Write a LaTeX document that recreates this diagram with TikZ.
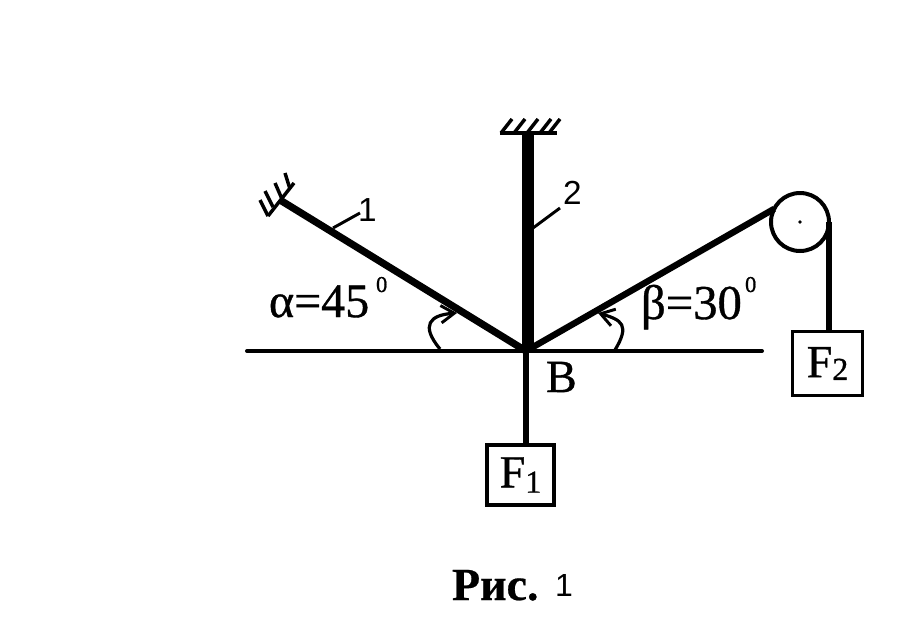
\documentclass[tikz,border=0pt]{standalone}
\usepackage{fontspec}
\setmainfont{Liberation Serif}
\newfontfamily\capsans{Liberation Sans}
\newfontfamily\heavy[FakeBold=0.8]{Liberation Serif}
\newfontfamily\heavybold[BoldFont={Liberation Serif Bold},FakeBold=0.5]{Liberation Serif Bold}
\usetikzlibrary{arrows.meta}
\newcommand{\fs}[1]{\fontsize{#1}{#1}\selectfont}
\tikzset{
  x=0.75pt,y=-0.75pt,
  every node/.style={inner sep=0pt,outer sep=0pt},
  txt/.style={anchor=base west,text=black},
  rodone/.style={line width=5.4pt},
  rodtwo/.style={line width=8.8pt},
  rope/.style={line width=3.8pt},
  axisline/.style={line width=3pt,line cap=round},
  thin line/.style={line width=2.2pt},
  wall/.style={line width=2.6pt},
  loadbox/.style={draw,font=\fs{34.5}\heavy},
  angarrow/.style={line width=2.4pt,-{Straight Barb[length=10pt,width=13pt,line width=2.2pt]}}
}
\begin{document}
\begin{tikzpicture}
\useasboundingbox (0,0) rectangle (912,628);
\coordinate (B) at (526,351);
\coordinate (A1) at (280,200);
\coordinate (A2) at (528,133);
\coordinate (H1) at (247,351);
\coordinate (H2) at (762,351);
% axis
\draw[axisline] (H1) -- (H2);
% rods
\draw[rodone] (A1) -- (B);
\draw[rodtwo] (A2) -- (528,351);
% pulley
\node[circle,draw,line width=3pt,minimum size=43.5pt,fill=white] (P) at (800,222) {};
\fill (P.center) circle (1.8);
\draw[line width=4.8pt] (B) -- (P.153);
% loads
\node[loadbox,line width=2.9pt,minimum width=50.5pt,minimum height=45pt] (F1) at (520.5,475) {\raisebox{-1pt}{F}\raisebox{-5pt}{\fs{24}1}};
\node[loadbox,line width=2.2pt,minimum width=52.5pt,minimum height=48pt] (F2) at (827.5,363.5) {\raisebox{-1pt}{F}\raisebox{-3pt}{\fs{24}2}};
\draw[rope] (B) -- (B |- F1.north);
\draw[rope] (P.east) -- (P.east |- F2.north);
% walls
\coordinate (W1a) at (268,216);
\coordinate (W1b) at (294,183);
\draw[wall] (W1a) -- (260,200);
\draw[wall] (273,207) -- (265,191);
\draw[wall] (282,199) -- (275,183);
\draw[wall] (290,189) -- (285,173);
\draw[wall] (W1a) -- (W1b);
\coordinate (W2a) at (500,133);
\coordinate (W2b) at (557,133);
\draw[wall] (W2a) -- (W2b);
\foreach \x in {501,514,527,540,549} \draw[wall] (\x,133) -- (\x+11,119);
% leader ticks
\draw[thin line] (333,228) -- (360,213);
\draw[thin line] (533,228) -- (560,208);
% angle arrows
\draw[angarrow] (440,349) .. controls (420,325) and (430,315) .. (457,313);
\draw[angarrow] (615,350) .. controls (630,325) and (622,320) .. (598,313);
% labels
\node[txt,font=\fs{25}\capsans] (n1) at (358,221) {1};
\node[txt,font=\fs{25}\capsans] (n2) at (563,204) {2};
\node[txt,font=\fs{36}\heavy] (al) at (269,317) {α=45};
\node[txt,font=\fs{17}\heavy] (al0) at (376,292) {0};
\node[txt,font=\fs{36.5}\heavy] (be) at (641,319) {β=30};
\node[txt,font=\fs{17}\heavy] (be0) at (745,292) {0};
\node[txt,font=\fs{34.5}\heavy] (Bl) at (546,392) {B};
\node[txt,font=\fs{34.5}\heavybold] (cap) at (452,600) {Рис.};
\node[txt,font=\fs{24}\capsans] (cap1) at (555,596) {1};
\end{tikzpicture}
\end{document}
